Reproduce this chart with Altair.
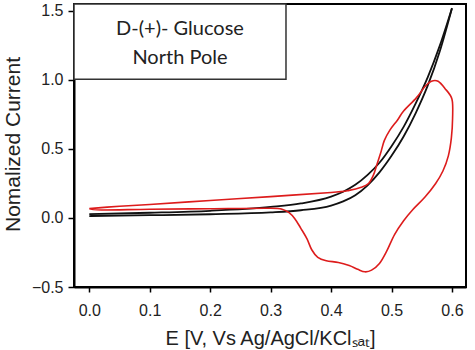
import altair as alt
import pandas as pd

# Cyclic voltammogram, D-(+)-glucose, north pole electrode
# Red trace: closed loop (potential, normalized current) in scan order
e_red = [0.0, 0.05, 0.1, 0.2, 0.3, 0.4, 0.43, 0.45, 0.462, 0.47, 0.476, 0.482,
         0.488, 0.497, 0.51, 0.52, 0.541, 0.555, 0.566, 0.577, 0.588, 0.6,
         0.601, 0.599, 0.594, 0.585, 0.573, 0.555, 0.535, 0.52, 0.505, 0.492,
         0.48, 0.467, 0.456, 0.444, 0.43, 0.412, 0.392, 0.378, 0.368, 0.36,
         0.35, 0.34, 0.33, 0.32, 0.3, 0.2, 0.1, 0.02, 0.0]
i_red = [0.068, 0.085, 0.098, 0.127, 0.155, 0.185, 0.2, 0.222, 0.25, 0.31, 0.39,
         0.47, 0.56, 0.635, 0.71, 0.775, 0.87, 0.95, 0.99, 0.99, 0.94, 0.86,
         0.72, 0.58, 0.45, 0.34, 0.25, 0.15, 0.06, -0.02, -0.12, -0.24,
         -0.33, -0.378, -0.39, -0.372, -0.345, -0.322, -0.31, -0.285, -0.23, -0.15,
         -0.075, -0.005, 0.04, 0.062, 0.07, 0.067, 0.063, 0.058, 0.068]

# Black traces: forward and reverse sweeps
e_black_fwd = [0.0, 0.1, 0.2, 0.3, 0.35, 0.4, 0.42, 0.44, 0.46, 0.48, 0.5,
               0.52, 0.54, 0.56, 0.58, 0.6]
i_black_fwd = [0.014, 0.02, 0.027, 0.04, 0.056, 0.09, 0.12, 0.165, 0.235, 0.33,
               0.45, 0.59, 0.76, 0.96, 1.21, 1.52]
e_black_rev = [0.0, 0.1, 0.2, 0.3, 0.35, 0.4, 0.42, 0.44, 0.46, 0.48, 0.5,
               0.52, 0.54, 0.56, 0.58, 0.6]
i_black_rev = [0.028, 0.038, 0.052, 0.08, 0.105, 0.155, 0.19, 0.24, 0.31, 0.40,
               0.52, 0.66, 0.83, 1.02, 1.25, 1.52]

x_ticks = [0.0, 0.1, 0.2, 0.3, 0.4, 0.5, 0.6]
y_ticks = [-0.5, 0.0, 0.5, 1.0, 1.5]
x_domain = [-0.0253, 0.6232]
y_domain = [-0.5, 1.55]

legend_lines = ["D-(+)- Glucose", "North Pole"]

red_df = pd.DataFrame({"E": e_red, "I": i_red, "k": range(len(e_red))})
black_df = pd.concat([
    pd.DataFrame({"E": e_black_fwd, "I": i_black_fwd, "sweep": "fwd"}),
    pd.DataFrame({"E": e_black_rev, "I": i_black_rev, "sweep": "rev"}),
])
box_df = pd.DataFrame({"x": [x_domain[0]], "x2": [0.3254], "y": [1.005], "y2": [y_domain[1]]})
label_df = pd.DataFrame({"x": [0.15, 0.15], "y": [1.37, 1.16], "t": legend_lines})

x_enc = alt.X("E:Q", scale=alt.Scale(domain=x_domain, nice=False, zero=False),
              axis=alt.Axis(values=x_ticks, format=".1f",
                            title="E [V, Vs Ag/AgCl/KClₛₐₜ]",
                            titleY=41, titleBaseline="top", titleFontSize=20,
                            tickSize=5, labelPadding=10))
y_enc = alt.Y("I:Q", scale=alt.Scale(domain=y_domain, nice=False, zero=False),
              axis=alt.Axis(values=y_ticks, format=".1f",
                            title="Nomalized Current",
                            titleX=-61, titleY=140, titleAngle=-90,
                            titleAlign="center", titleBaseline="middle",
                            titleFontSize=21,
                            tickSize=6, labelPadding=5))

box = alt.Chart(box_df).mark_rect(fill="white", stroke="#333", strokeWidth=1.5).encode(
    x=alt.X("x:Q", scale=alt.Scale(domain=x_domain, nice=False, zero=False)),
    x2="x2:Q",
    y=alt.Y("y:Q", scale=alt.Scale(domain=y_domain, nice=False, zero=False)),
    y2="y2:Q",
)

labels = alt.Chart(label_df).mark_text(font="Lato", fontSize=20, color="#222",
                                       align="center", baseline="middle").encode(
    x="x:Q", y="y:Q", text="t:N")

black = alt.Chart(black_df).mark_line(color="#111", strokeWidth=1.8,
                                      interpolate="monotone").encode(
    x=x_enc, y=y_enc, detail="sweep:N")

red = alt.Chart(red_df).mark_line(color="#dd1c1c", strokeWidth=1.6,
                                  interpolate="cardinal").encode(
    x="E:Q", y="I:Q", order="k:Q")

chart = alt.layer(black, red, box, labels).properties(
    width=392, height=283,
    autosize=alt.AutoSizeParams(type="none"),
    padding={"left": 74, "top": 4, "right": 9, "bottom": 63},
).configure_view(stroke="black", strokeWidth=2).configure_axis(
    grid=False, domainColor="black", domainWidth=2,
    tickColor="black", tickWidth=1.5,
    labelFont="Liberation Sans", labelFontSize=16, labelColor="#222",
    titleFont="Liberation Sans", titleFontSize=22, titleFontWeight="normal",
    titleColor="#222",
)

chart.save("out.html", embed_options={"renderer": "svg", "actions": False})
